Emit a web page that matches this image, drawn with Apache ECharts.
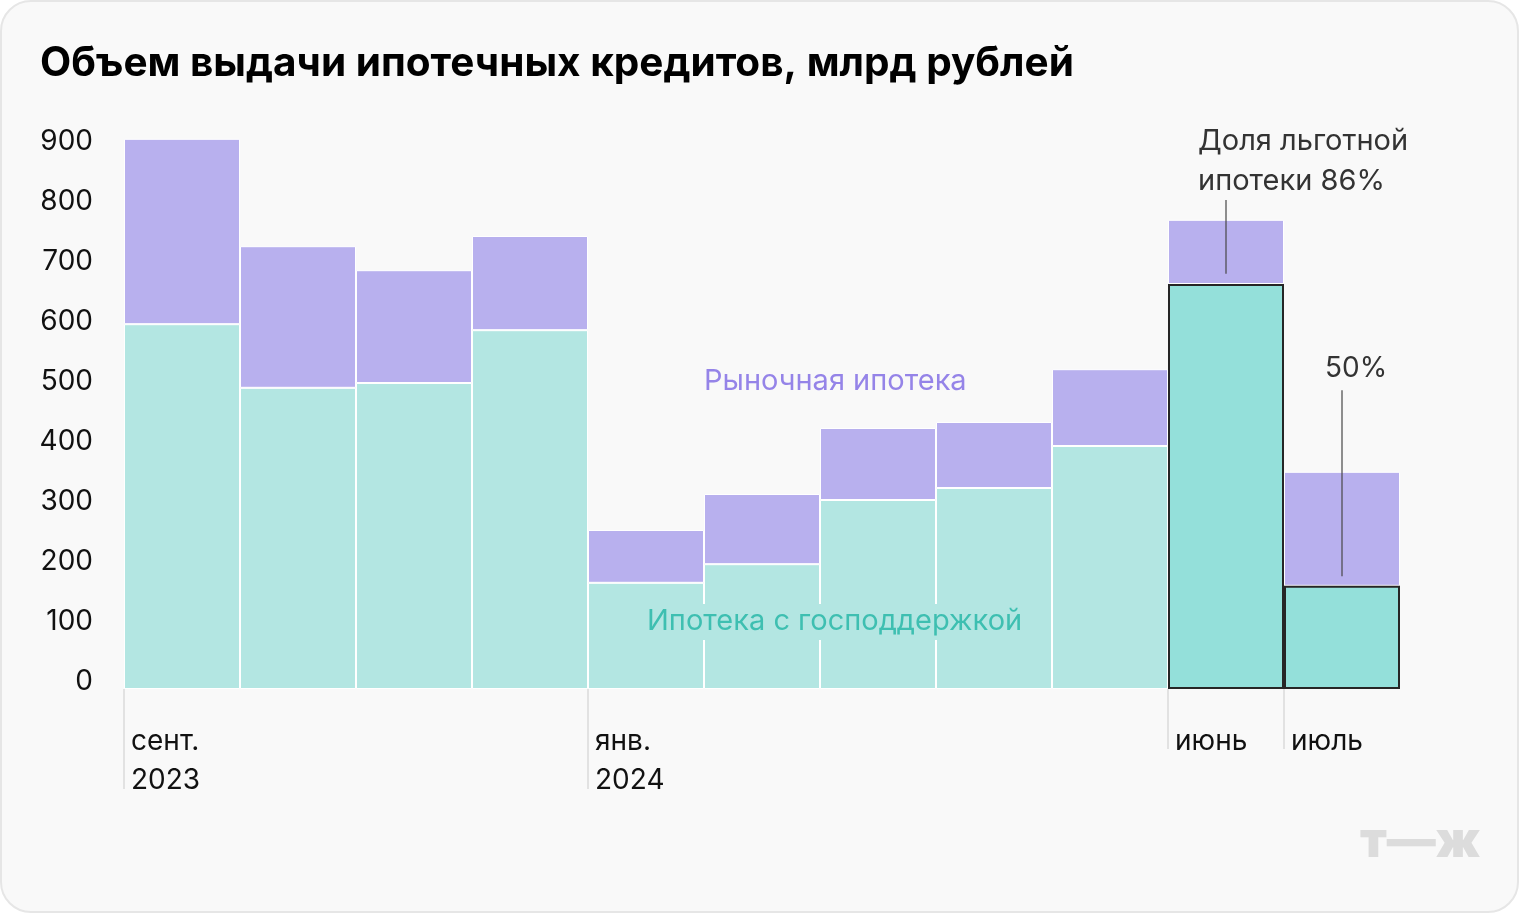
<!DOCTYPE html>
<html>
<head>
<meta charset="utf-8">
<script src="https://cdn.jsdelivr.net/npm/echarts@6/dist/echarts.min.js"></script>
<style>
html,body{margin:0;padding:0;background:#ffffff;}
#chart{width:1520px;height:914px;}
</style>
</head>
<body>
<div id="chart"></div>
<script>
var months = ['сент. 2023','окт. 2023','нояб. 2023','дек. 2023','янв. 2024','февр. 2024','март 2024','апр. 2024','май 2024','июнь 2024','июль 2024'];
var govValues = [608, 502, 510, 598, 177, 208, 315, 335, 405, 675, 172];
var marketValues = [309, 236, 188, 157, 88, 117, 120, 110, 128, 107, 190];
var highlighted = [9, 10];
var yTicks = [0, 100, 200, 300, 400, 500, 600, 700, 800, 900];
var longTickPos = [0, 4];
var longTickLabels = ['сент.\n2023', 'янв.\n2024'];
var shortTickPos = [9, 10];
var shortTickLabels = ['июнь', 'июль'];
var juneCallout = [815, 692];
var julyCallout = [498, 188];

var FONT = 'Inter, "Noto Sans", sans-serif';
var chart = echarts.init(document.getElementById('chart'), null, {renderer: 'canvas'});

var govData = govValues.map(function (v, i) {
  if (highlighted.indexOf(i) >= 0) {
    return {value: v, itemStyle: {color: '#94e0da', borderColor: '#262626', borderWidth: 2}};
  }
  return v;
});

function tickAxis(pos, labels, len) {
  return {
    type: 'value', min: 0, max: months.length, position: 'bottom',
    axisLine: {show: false}, splitLine: {show: false},
    axisTick: {show: true, customValues: pos, length: len, lineStyle: {color: '#e2e2e2', width: 2}},
    axisLabel: {
      show: true, customValues: pos, align: 'left', verticalAlign: 'top', margin: 33,
      padding: [0, 0, 0, 7], fontFamily: FONT, fontSize: 28, lineHeight: 39, color: '#111',
      formatter: function (v) { var k = pos.indexOf(Math.round(v)); return k >= 0 ? labels[k] : ''; }
    }
  };
}

var option = {
  backgroundColor: 'transparent',
  animation: false,
  graphic: [
    {type: 'rect', z: -10, shape: {x: 1, y: 1, width: 1517, height: 911, r: 30},
     style: {fill: '#f9f9f9', stroke: '#e6e6e6', lineWidth: 2}},
    {type: 'text', left: 40, top: 43, style: {text: 'Объем выдачи ипотечных кредитов, млрд рублей',
      font: 'bold 40.5px ' + FONT, fill: '#000'}},
    {type: 'text', left: 704, top: 367, style: {text: 'Рыночная ипотека', font: '29px ' + FONT, fill: '#9584e8'}},
    {type: 'text', left: 647, top: 604, z: 10, style: {text: 'Ипотека с господдержкой', font: '29px ' + FONT,
      fill: '#3ebfb1', backgroundColor: '#b3e6e2', padding: [3, 0, 4, 0]}},
    {type: 'text', left: 1198, top: 121, style: {text: 'Доля льготной\nипотеки 86%', font: '29px ' + FONT,
      lineHeight: 40, fill: '#333'}},
    {type: 'text', left: 1325, top: 355, style: {text: '50%', font: '28px ' + FONT, fill: '#333'}},
    {type: 'text', left: 1360, top: 818, style: {text: 'т—ж', font: '900 49px ' + FONT, fill: '#dcdcdc'}}
  ],
  grid: {left: 124, right: 120, top: 89, bottom: 225, containLabel: false},
  xAxis: [
    {type: 'category', data: months, show: false, boundaryGap: true},
    tickAxis(longTickPos, longTickLabels, 100),
    tickAxis(shortTickPos, shortTickLabels, 60)
  ],
  yAxis: {
    type: 'value', min: 0, max: 1000, interval: 100,
    axisLine: {show: false}, axisTick: {show: false}, splitLine: {show: false},
    axisLabel: {
      margin: 31, fontFamily: FONT, fontSize: 28, color: '#111', verticalAlign: 'bottom', lineHeight: 15,
      formatter: function (v) { return yTicks.indexOf(v) >= 0 ? String(v) : ''; }
    }
  },
  series: [
    {
      type: 'bar', name: 'Ипотека с господдержкой', stack: 'total', data: govData, z: 3,
      barCategoryGap: '0%', xAxisIndex: 0,
      itemStyle: {color: '#b3e6e2', borderColor: '#ffffff', borderWidth: 1}
    },
    {
      type: 'bar', name: 'Рыночная ипотека', stack: 'total', data: marketValues, z: 2,
      barCategoryGap: '0%', xAxisIndex: 0,
      itemStyle: {color: '#b8b0ee', borderColor: '#ffffff', borderWidth: 1},
      markLine: {
        silent: true, symbol: 'none', animation: false, z: 5,
        label: {show: false},
        lineStyle: {color: 'rgba(70,70,70,0.6)', width: 2, type: 'solid'},
        data: [
          [{coord: [months[9], juneCallout[0]]}, {coord: [months[9], juneCallout[1]]}],
          [{coord: [months[10], julyCallout[0]]}, {coord: [months[10], julyCallout[1]]}]
        ]
      }
    }
  ]
};
chart.setOption(option);
</script>
</body>
</html>
